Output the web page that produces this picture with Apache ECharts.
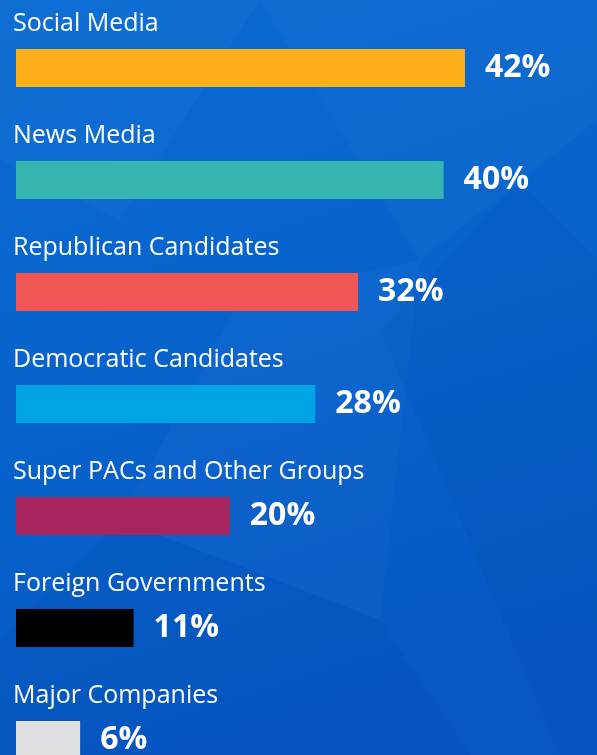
<!DOCTYPE html>
<html>
<head>
<meta charset="utf-8">
<script src="https://cdn.jsdelivr.net/npm/echarts@6/dist/echarts.min.js"></script>
<style>
html, body { margin: 0; padding: 0; }
#chart-0 { width: 597px; height: 755px; }
</style>
</head>
<body>
<div id="chart-0"></div>
<script>
var categories = ['Social Media', 'News Media', 'Republican Candidates', 'Democratic Candidates',
    'Super PACs and Other Groups', 'Foreign Governments', 'Major Companies'];
var values = [42, 40, 32, 28, 20, 11, 6];
var barColors = ['#fdb01a', '#36b5b0', '#f05656', '#00a4e2', '#a8265f', '#000000', '#e0e0e2'];

var chart = echarts.init(document.getElementById('chart-0'));

// low-poly backdrop, purely decorative
var facets = [
    { points: [[0, 0], [260, 0], [120, 220], [0, 160]], fill: 'rgba(255,255,255,0.025)' },
    { points: [[260, 0], [597, 0], [597, 120], [420, 260]], fill: 'rgba(255,255,255,0.02)' },
    { points: [[380, 330], [520, 180], [597, 260], [597, 755], [560, 755]], fill: 'rgba(0,30,120,0.05)' },
    { points: [[120, 520], [380, 620], [470, 755], [0, 755], [0, 640]], fill: 'rgba(0,30,120,0.05)' },
    { points: [[240, 300], [420, 260], [380, 620], [120, 520]], fill: 'rgba(255,255,255,0.025)' }
];
var graphics = facets.map(function(f) {
    return {
        type: 'polygon',
        silent: true,
        z: -10,
        shape: { points: f.points },
        style: { fill: f.fill }
    };
});

var option = {
    backgroundColor: {
        type: 'linear', x: 0, y: 0, x2: 0.4, y2: 1,
        colorStops: [
            { offset: 0, color: '#0a6bd2' },
            { offset: 0.5, color: '#0863cc' },
            { offset: 1, color: '#0657c3' }
        ]
    },
    graphic: graphics,
    animation: false,
    grid: {
        left: 16,
        top: 12,
        bottom: -41,
        right: 46.5,
        containLabel: false,
        outerBoundsMode: 'none'
    },
    xAxis: {
        type: 'value',
        min: 0,
        max: 50,
        show: false
    },
    yAxis: {
        type: 'category',
        data: categories,
        inverse: true,
        axisLine: { show: false },
        axisTick: { show: false },
        splitLine: { show: false },
        axisLabel: {
            inside: true,
            margin: -3,
            verticalAlign: 'middle',
            formatter: function(name) {
                return '{a|' + name + '}\n{b| }';
            },
            rich: {
                a: {
                    color: '#ffffff',
                    fontFamily: 'Open Sans',
                    fontSize: 25,
                    lineHeight: 32
                },
                b: {
                    fontSize: 10,
                    lineHeight: 88
                }
            }
        },
        z: 5
    },
    series: [{
        type: 'bar',
        barWidth: 38,
        data: values.map(function(v, i) {
            return { value: v, itemStyle: { color: barColors[i] } };
        }),
        label: {
            show: true,
            position: 'right',
            distance: 20,
            color: '#ffffff',
            fontFamily: 'Open Sans',
            fontWeight: 'bold',
            fontSize: 32,
            formatter: '{c}%'
        }
    }]
};
chart.setOption(option);
</script>
</body>
</html>
